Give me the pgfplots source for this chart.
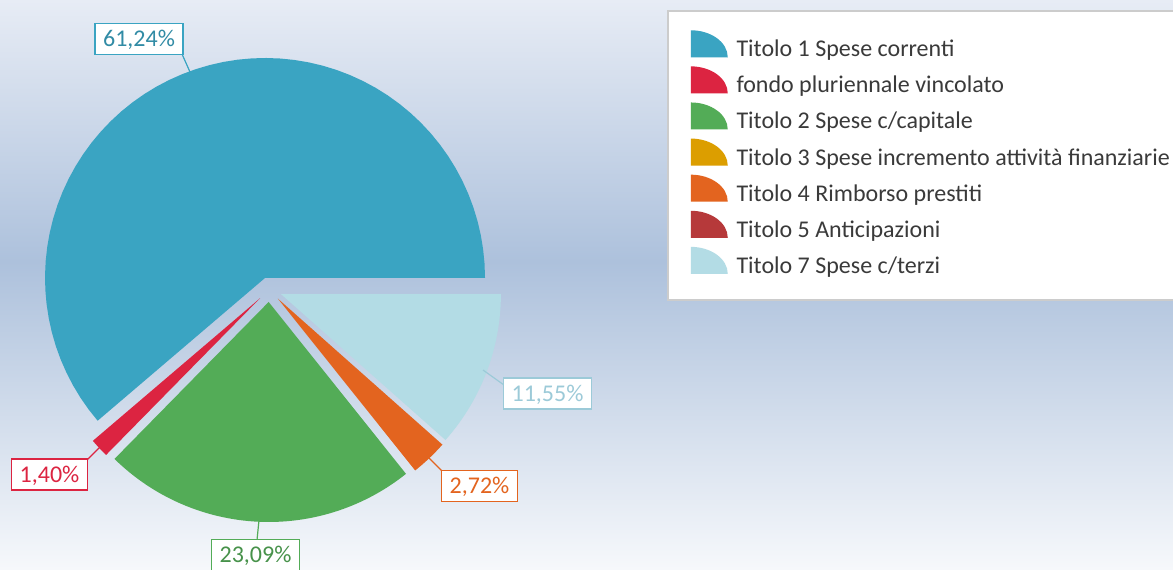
\documentclass[border=0pt]{standalone}
\usepackage{pgfplots}
\pgfplotsset{compat=1.18}
\usepackage{fontspec}
\setmainfont{Carlito}

\definecolor{pieblue}{HTML}{3AA4C2}
\definecolor{piered}{HTML}{DC2441}
\definecolor{piegreen}{HTML}{53AC57}
\definecolor{piegold}{HTML}{DC9E00}
\definecolor{pieorange}{HTML}{E3641F}
\definecolor{piedred}{HTML}{B6393A}
\definecolor{piecyan}{HTML}{B3DCE5}
\definecolor{labcyan}{HTML}{9CCAD8}
\definecolor{legtext}{HTML}{3A3A3A}
\definecolor{bgtop}{HTML}{E7ECF5}
\definecolor{bgmid}{HTML}{ADC1DC}
\definecolor{bgbot}{HTML}{F6F8FB}

\pgfdeclareverticalshading{bgshade}{100bp}{color(0bp)=(bgbot); color(25bp)=(bgbot); color(52bp)=(bgmid); color(75bp)=(bgtop); color(100bp)=(bgtop)}

% data: shares in percent (legend order)
\def\pA{61.24}  % Titolo 1 Spese correnti
\def\pB{1.40}   % fondo pluriennale vincolato
\def\pC{23.09}  % Titolo 2 Spese c/capitale
\def\pD{0}      % Titolo 3
\def\pE{2.72}   % Titolo 4 Rimborso prestiti
\def\pF{0}      % Titolo 5 Anticipazioni
\def\pG{11.55}  % Titolo 7 Spese c/terzi

% pie geometry (pixel units of the picture)
\def\cx{269.3}
\def\cy{289.6}
\def\ex{12.4}
\def\R{220}

\newcommand{\slice}[3]{%
  \pgfmathsetmacro\sa{3.6*(#1)}%
  \pgfmathsetmacro\sb{3.6*((#1)+(#2))}%
  \pgfmathsetmacro\sm{(\sa+\sb)/2}%
  \pgfmathsetmacro\ox{\cx+\ex*cos(\sm)}%
  \pgfmathsetmacro\oy{\cy-\ex*sin(\sm)}%
  \pgfmathsetmacro\sd{(\sb-\sa)/59}%
  \edef\doslice{\noexpand\addplot[fill=#3, draw=none, mark=none, forget plot, domain=0:60, samples=61]
   ({\ox+((x<0.5)?0:\R)*cos(\sa+(x-1)*\sd)}, {\oy-((x<0.5)?0:\R)*sin(\sa+(x-1)*\sd)});}%
  \doslice}

\tikzset{lbl/.style={draw=#1, fill=white, line width=0.8pt, inner xsep=4pt, inner ysep=3.9pt,
  text height=7.6pt, text depth=0pt, font=\fontsize{12}{14}\selectfont}}

\begin{document}
\begin{tikzpicture}
\useasboundingbox (0,0) rectangle (586.5pt,284.5pt);
\begin{scope}
\clip (0,0) rectangle (586.5pt,284.5pt);
\shade[shading=bgshade] (0,0) rectangle (586.5pt,284.5pt);
\begin{axis}[
  at={(0,0)}, anchor=south west,
  width=586.5pt, height=284.5pt, scale only axis,
  xmin=0, xmax=1173, ymin=0, ymax=569, y dir=reverse,
  hide axis, clip=false,
  legend style={at={(axis cs:667,10)}, anchor=north west, draw=black!20, line width=0.75pt,
    fill=white, inner xsep=11.5pt, inner ysep=9.75pt, row sep=1.3pt,
    font=\fontsize{12}{14}\selectfont, text=legtext,
    nodes={inner sep=0pt, text height=10pt, text depth=3.5pt}},
  legend cell align=left,
  legend image code/.code={\fill[#1, draw=none] (0pt,-3.5pt) -- (0pt,10pt) arc[start angle=90,end angle=0,x radius=18.5pt,y radius=13.5pt] -- cycle; \path (22.5pt,0pt);},
]
\pgfmathsetmacro\cB{\pA}
\pgfmathsetmacro\cC{\pA+\pB}
\pgfmathsetmacro\cE{\pA+\pB+\pC+\pD}
\pgfmathsetmacro\cG{\pA+\pB+\pC+\pD+\pE+\pF}
\slice{0}{\pA}{pieblue}
\slice{\cB}{\pB}{piered}
\slice{\cC}{\pC}{piegreen}
\slice{\cE}{\pE}{pieorange}
\slice{\cG}{\pG}{piecyan}

% leader lines
\addplot[draw=pieblue, line width=0.6pt, mark=none, forget plot] coordinates {(182,54) (190,72)};
\addplot[draw=piered, line width=0.6pt, mark=none, forget plot] coordinates {(86,461) (100,447)};
\addplot[draw=piegreen, line width=0.6pt, mark=none, forget plot] coordinates {(257,540) (259,520)};
\addplot[draw=pieorange, line width=0.6pt, mark=none, forget plot] coordinates {(443,472) (428,457)};
\addplot[draw=labcyan, line width=0.6pt, mark=none, forget plot] coordinates {(504,385) (483,370)};

% legend
\addlegendimage{fill=pieblue}\addlegendentry{Titolo 1 Spese correnti}
\addlegendimage{fill=piered}\addlegendentry{fondo pluriennale vincolato}
\addlegendimage{fill=piegreen}\addlegendentry{Titolo 2 Spese c/capitale}
\addlegendimage{fill=piegold}\addlegendentry{Titolo 3 Spese incremento attività finanziarie}
\addlegendimage{fill=pieorange}\addlegendentry{Titolo 4 Rimborso prestiti}
\addlegendimage{fill=piedred}\addlegendentry{Titolo 5 Anticipazioni}
\addlegendimage{fill=piecyan}\addlegendentry{Titolo 7 Spese c/terzi}

% value labels
\node[lbl=pieblue, text=pieblue!85!black] at (axis cs:139,39) {61,24\%};
\node[lbl=piered, text=piered] at (axis cs:49.5,474.5) {1,40\%};
\node[lbl=piegreen, text=piegreen!85!black] at (axis cs:255.5,555) {23,09\%};
\node[lbl=pieorange, text=pieorange] at (axis cs:479.5,486) {2,72\%};
\node[lbl=labcyan, text=labcyan] at (axis cs:547.5,393.5) {11,55\%};
\end{axis}
\end{scope}
\end{tikzpicture}
\end{document}
